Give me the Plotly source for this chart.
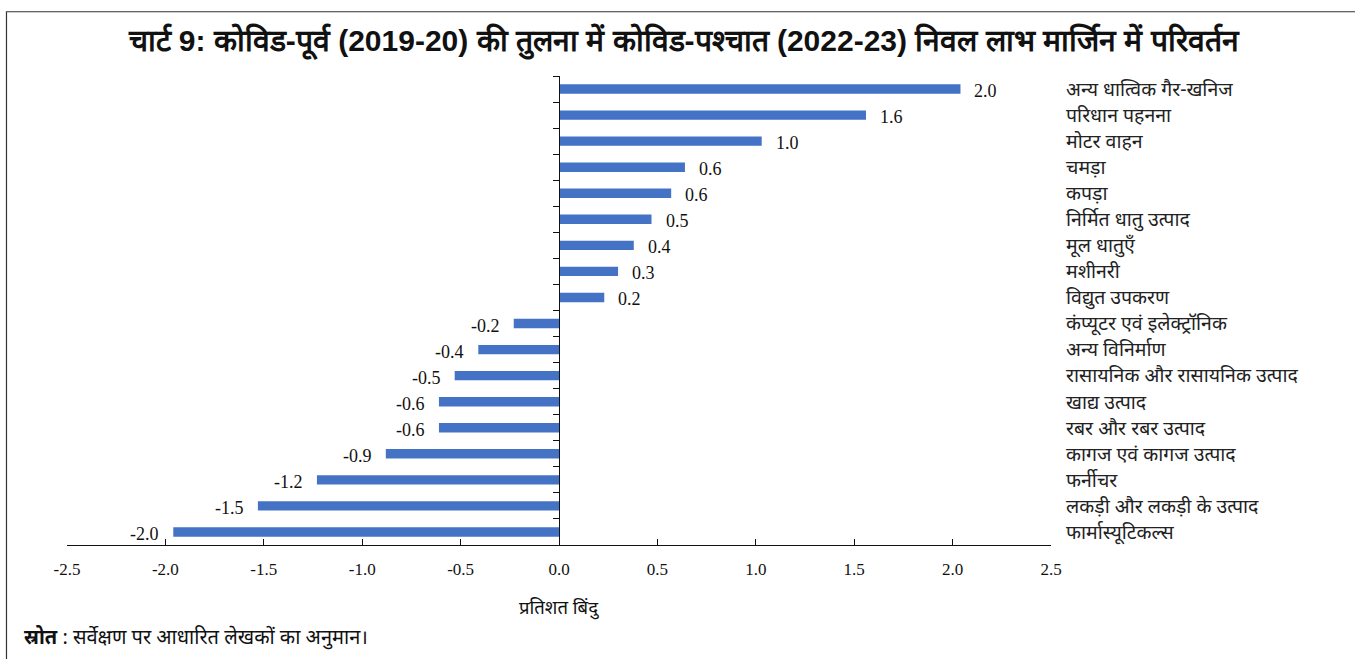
import plotly.graph_objects as go

# Sectors, top to bottom, and change in net profit margin (percentage points)
sectors = [
    "अन्य धात्विक गैर-खनिज",
    "परिधान पहनना",
    "मोटर वाहन",
    "चमड़ा",
    "कपड़ा",
    "निर्मित धातु उत्पाद",
    "मूल धातुएँ",
    "मशीनरी",
    "विद्युत उपकरण",
    "कंप्यूटर एवं इलेक्ट्रॉनिक",
    "अन्य विनिर्माण",
    "रासायनिक और रासायनिक उत्पाद",
    "खाद्य उत्पाद",
    "रबर और रबर उत्पाद",
    "कागज एवं कागज उत्पाद",
    "फर्नीचर",
    "लकड़ी और लकड़ी के उत्पाद",
    "फार्मास्यूटिकल्स",
]
change = [2.04, 1.56, 1.03, 0.64, 0.57, 0.47, 0.38, 0.30, 0.23,
          -0.23, -0.41, -0.53, -0.61, -0.61, -0.88, -1.23, -1.53, -1.96]

x_ticks = [-2.5, -2.0, -1.5, -1.0, -0.5, 0.0, 0.5, 1.0, 1.5, 2.0, 2.5]
x_ticktext = [f"{v:.1f}" for v in x_ticks]

title_text = "चार्ट 9: कोविड-पूर्व (2019-20) की तुलना में कोविड-पश्चात (2022-23) निवल लाभ मार्जिन में परिवर्तन"
x_title = "प्रतिशत बिंदु"
source_text = "<b>स्रोत</b> : सर्वेक्षण पर आधारित लेखकों का अनुमान।"

BAR = "#4472C4"
SERIF = "Liberation Serif, serif"
SANS = "Noto Sans, sans-serif"

n = len(sectors)
y_range = [n - 0.5, -0.5]

fig = go.Figure()
fig.add_trace(go.Bar(
    x=change, y=sectors, orientation="h",
    marker=dict(color=BAR, line=dict(width=0)),
    hoverinfo="x+y", showlegend=False,
))
# invisible companion trace so the zero-line axis (y2) is drawn
fig.add_trace(go.Scatter(
    x=change, y=sectors, yaxis="y2", mode="markers",
    marker=dict(opacity=0), hoverinfo="skip", showlegend=False,
))

# value labels beside each bar end
for s, v in zip(sectors, change):
    fig.add_annotation(
        x=v, y=s, text=f"{v:.1f}", showarrow=False,
        xanchor="left" if v >= 0 else "right",
        xshift=12 if v >= 0 else -12, yshift=-2,
        font=dict(family=SERIF, size=18, color="#111"),
    )

fig.add_annotation(
    xref="paper", yref="paper", x=0.5, y=0, yshift=-47,
    text=x_title, showarrow=False, xanchor="center", yanchor="top",
    font=dict(family=SANS, size=18.5, color="#111"),
)
fig.add_annotation(
    xref="paper", yref="paper", x=-0.046, y=0, yshift=-76,
    text=source_text, showarrow=False, xanchor="left", yanchor="top",
    font=dict(family=SANS, size=20, color="#111"),
)

# outer frame
fig.add_shape(type="rect", xref="paper", yref="paper",
              x0=-0.0615, x1=1.32, y0=-0.26, y1=1.137,
              line=dict(color="#333", width=1.2), fillcolor="rgba(0,0,0,0)", layer="above")

fig.update_layout(
    width=1355, height=659,
    margin=dict(l=67, r=304, t=76, b=114),
    paper_bgcolor="white", plot_bgcolor="white",
    bargap=0.64,
    title=dict(
        text=f"<b>{title_text}</b>", x=0.5045, xanchor="center", xref="container",
        y=0.938, yref="container", yanchor="middle",
        font=dict(family="Liberation Sans Narrow, Liberation Sans, sans-serif", size=30, color="#111"),
    ),
    xaxis=dict(
        range=[-2.5, 2.5], tickvals=x_ticks, ticktext=x_ticktext,
        showgrid=False, zeroline=False,
        showline=True, linecolor="#111", linewidth=1.3,
        ticks="inside", ticklen=6, tickcolor="#111", ticklabelstandoff=8,
        tickfont=dict(family=SERIF, size=17, color="#111"),
    ),
    yaxis=dict(
        type="category", categoryarray=sectors, range=y_range,
        side="right", showgrid=False, zeroline=False, showline=False, ticks="",
        ticklabelstandoff=14,
        tickfont=dict(family=SANS, size=19.5, color="#222"),
    ),
    yaxis2=dict(
        type="category", categoryarray=sectors, range=y_range,
        overlaying="y", anchor="free", position=0.5, side="left",
        showgrid=False, zeroline=False, showticklabels=False,
        showline=True, linecolor="#111", linewidth=1.3,
        ticks="outside", ticklen=6, tickcolor="#111", tickson="boundaries",
    ),
)

fig.write_html("out.html")
